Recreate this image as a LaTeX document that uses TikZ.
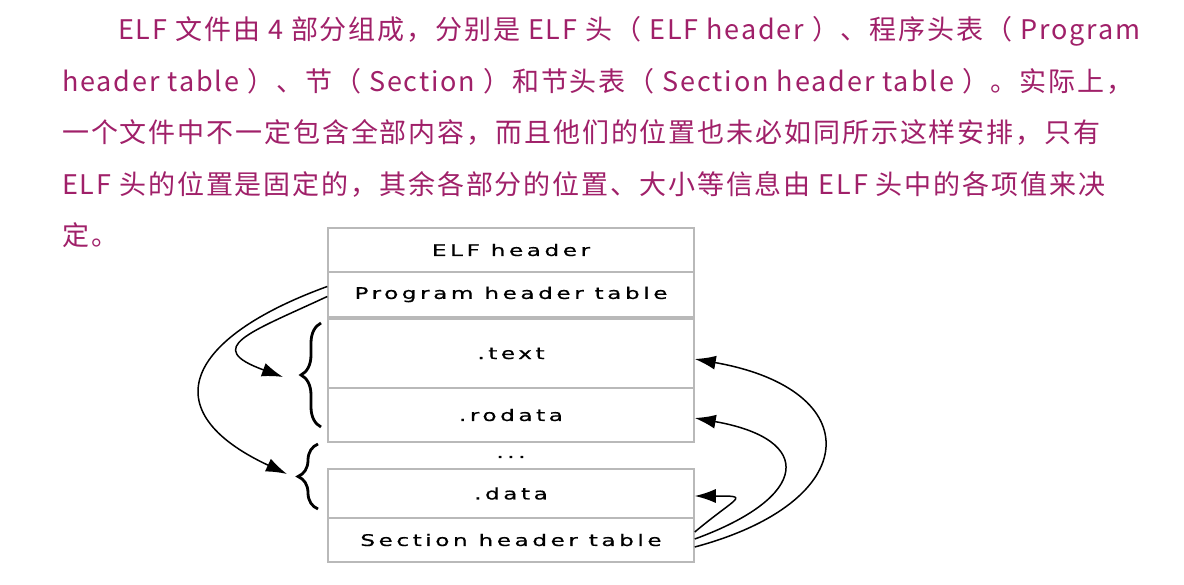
\documentclass[tikz,border=0pt]{standalone}
\usepackage{fontspec}
\usepackage{tkz-euclide}
\usetikzlibrary{arrows.meta,decorations.pathreplacing}
\newfontfamily\cjkfont[LetterSpace=7]{Noto Sans CJK SC}
\newfontfamily\rowfont[FakeStretch=1.45,LetterSpace=22,FakeBold=0.6]{DejaVu Sans}
\definecolor{paracolor}{RGB}{160,32,105}
\definecolor{rowgray}{RGB}{185,185,185}
\tikzset{
    row/.style={draw=rowgray,line width=1.5pt,minimum width=366pt,inner sep=0pt,
        font=\rowfont\fontsize{16}{16}\selectfont},
    para/.style={anchor=base west,inner sep=0pt,text=paracolor,
        font=\cjkfont\fontsize{27}{27}\selectfont},
    link/.style={line width=1.5pt,-{Latex[length=21pt,width=14pt]}},
    bracket/.style={decorate,decoration={brace,amplitude=20pt},line width=2.8pt}
}

\begin{document}
\begin{tikzpicture}[x=1pt,y=-1pt]
            \useasboundingbox[fill=white] (0,0) rectangle (1184,585);
            \node[para] (l1) at (118,40) {ELF 文件由 4 部分组成，分别是 ELF 头（ ELF header ）、程序头表（ Program};
            \node[para] (l2) at (62,91.5) {header table ）、节（ Section ）和节头表（ Section header table ）。实际上，};
            \node[para] (l3) at (62,143) {一个文件中不一定包含全部内容，而且他们的位置也未必如同所示这样安排，只有};
            \node[para] (l4) at (62,194.5) {ELF 头的位置是固定的，其余各部分的位置、大小等信息由 ELF 头中的各项值来决};
            \node[para] (l5) at (62,246) {定。};
            \node[row,minimum height=44pt] (elf) at (511,250) {ELF header};
            \node[row,minimum height=45pt] (pht) at (511,294.5) {Program header table};
            \node[row,minimum height=69pt] (text) at (511,353.5) {.text};
            \node[row,minimum height=54pt] (rodata) at (511,415) {.rodata};
            \node[row,draw=none] (dots) at (511,457) {...};
            \node[row,minimum height=49pt] (data) at (511,493.5) {.data};
            \node[row,minimum height=44pt] (sht) at (511,540) {Section header table};
            \tkzDefPoint(321,427){Ba}
            \tkzDefPoint(321,323){Bb}
            \tkzDefPoint(318,509){Bc}
            \tkzDefPoint(318,444){Bd}
            \tkzDefPoint(283,377){TipA}
            \tkzDefPoint(287,474){TipB}
            \draw[bracket] (Ba) -- (Bb);
            \draw[bracket] (Bc) -- (Bd);
            \draw[link] ([yshift=-2pt]pht.west) to[out=205,in=160,looseness=2.4] (TipA);
            \draw[link] ([yshift=8pt]pht.west) to[out=200,in=155,looseness=2] (TipB);
            \draw[link] ([yshift=-7pt]sht.east) to[out=15,in=-10,looseness=2.4] ([yshift=-5.5pt]text.east);
            \draw[link] ([yshift=1pt]sht.east) to[out=20,in=-10,looseness=2.6] ([yshift=-3pt]rodata.east);
            \draw[link] ([yshift=8pt]sht.east) to[out=40,in=0,looseness=4] ([yshift=-2.5pt]data.east);
        \end{tikzpicture}
\end{document}
